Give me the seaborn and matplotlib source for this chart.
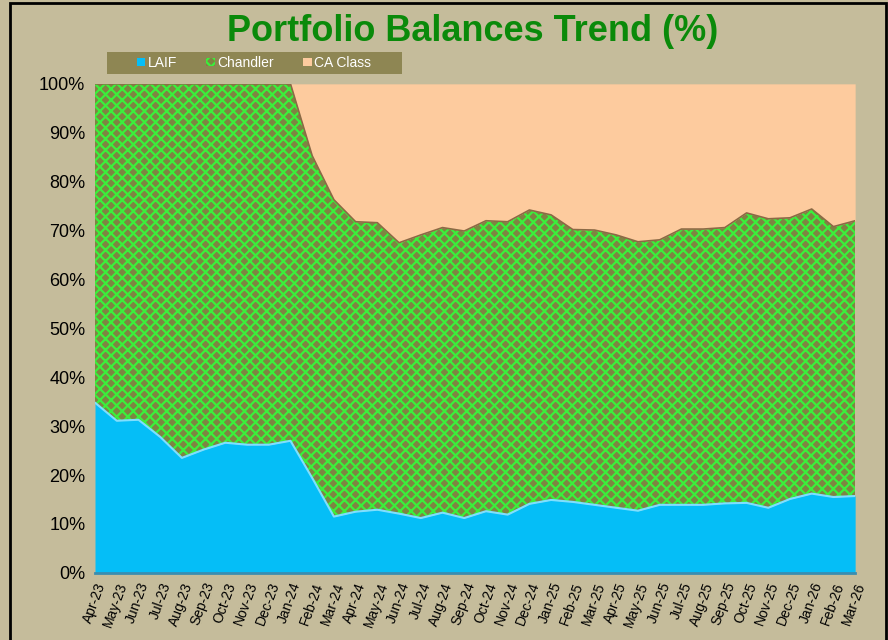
import numpy as np
import pandas as pd
import matplotlib.pyplot as plt
import seaborn as sns
from matplotlib.patches import Rectangle

# data (percent of portfolio)
months = ["Apr-23", "May-23", "Jun-23", "Jul-23", "Aug-23", "Sep-23", "Oct-23", "Nov-23",
          "Dec-23", "Jan-24", "Feb-24", "Mar-24", "Apr-24", "May-24", "Jun-24", "Jul-24",
          "Aug-24", "Sep-24", "Oct-24", "Nov-24", "Dec-24", "Jan-25", "Feb-25", "Mar-25",
          "Apr-25", "May-25", "Jun-25", "Jul-25", "Aug-25", "Sep-25", "Oct-25", "Nov-25",
          "Dec-25", "Jan-26", "Feb-26", "Mar-26"]
laif = [34.8, 31.1, 31.3, 27.8, 23.5, 25.2, 26.6, 26.2, 26.2, 27.0, 19.4, 11.5,
        12.5, 12.9, 12.1, 11.2, 12.3, 11.2, 12.6, 11.9, 14.1, 14.9, 14.5, 13.9,
        13.3, 12.7, 13.9, 13.9, 13.9, 14.2, 14.3, 13.3, 15.1, 16.2, 15.5, 15.7]
chandler_top = [100, 100, 100, 100, 100, 100, 100, 100, 100, 100, 85.3, 76.3,
                71.8, 71.6, 67.5, 69.1, 70.6, 69.9, 72.0, 71.8, 74.2, 73.2, 70.2, 70.1,
                69.1, 67.7, 68.1, 70.3, 70.3, 70.6, 73.6, 72.4, 72.6, 74.4, 70.8, 72.0]
series_names = ["LAIF", "Chandler", "CA Class"]

df = pd.DataFrame({"month": months, "LAIF": laif})
df["Chandler"] = np.array(chandler_top) - df["LAIF"]
df["CA Class"] = 100 - np.array(chandler_top)

sns.set_style("white")
plt.rcParams["font.family"] = ["Liberation Sans", "DejaVu Sans"]
plt.rcParams["hatch.linewidth"] = 1.6

bg = "#C5BC9B"
fig = plt.figure(figsize=(8.88, 6.4), dpi=100, facecolor=bg)
ax = fig.add_axes([0.107, 0.105, 0.856, 0.764])
ax.set_facecolor(bg)

x = np.arange(len(months))
polys = ax.stackplot(x, df["LAIF"], df["Chandler"], df["CA Class"],
                     colors=["#05BEF7", "#7E8442", "#FDCB9E"],
                     labels=series_names, linewidth=0)
polys[1].set_hatch("xxx")
polys[1].set_edgecolor("#3BEF3B")

# boundary lines between areas
sns.lineplot(x=x, y=df["LAIF"], ax=ax, color="#7FDFFF", linewidth=1.5, legend=False)
sns.lineplot(x=x, y=chandler_top, ax=ax, color="#8B6A45", linewidth=1.2, legend=False)

ax.set_xlim(0, len(months) - 1)
ax.set_ylim(0, 100)
ax.set_yticks(range(0, 101, 10))
ax.set_yticklabels([f"{v}%" for v in range(0, 101, 10)], fontsize=13, color="black")
ax.set_xticks(x)
ax.set_xticklabels(months, rotation=70, fontsize=10, ha="right", rotation_mode="anchor",
                   color="black")
ax.tick_params(axis="x", pad=2)
ax.set_xlabel("")
ax.set_ylabel("")
for s in ax.spines.values():
    s.set_visible(False)
ax.spines["bottom"].set_visible(True)
ax.spines["bottom"].set_color("#3A8DB0")
ax.spines["bottom"].set_linewidth(2)

fig.text(0.532, 0.951, "Portfolio Balances Trend (%)", ha="center", va="center",
         fontsize=26, fontweight="bold", color="#0A8A0A")

# legend band
fig.patches.append(Rectangle((107 / 888, 1 - 74 / 640), 295 / 888, 22 / 640,
                             transform=fig.transFigure, facecolor="#8E8653",
                             edgecolor="none", zorder=1))
leg = fig.legend(loc="center", bbox_to_anchor=(0.286, 0.9016), ncol=3, frameon=False,
                 fontsize=10, handlelength=0.6, handleheight=0.6, handletextpad=0.2,
                 columnspacing=2.1, borderpad=0.2)
for t in leg.get_texts():
    t.set_color("white")

# outer frame of the chart object
fig.patches.append(Rectangle((0.0113, -0.01), 0.9864, 1.005, transform=fig.transFigure,
                             fill=False, edgecolor="black", linewidth=2))

fig.savefig("out.png", dpi=100, facecolor=bg)
